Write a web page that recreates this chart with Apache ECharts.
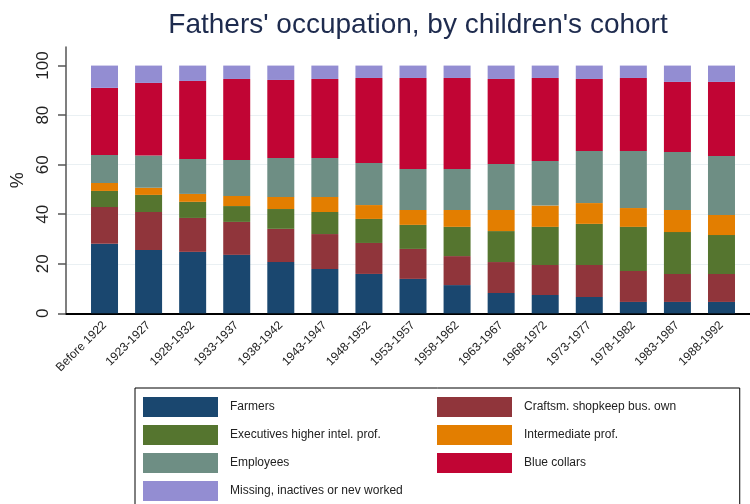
<!DOCTYPE html>
<html lang="en">
<head>
    <meta charset="UTF-8">
    <title>Fathers' occupation</title>
    <script src="https://cdn.jsdelivr.net/npm/echarts@6/dist/echarts.min.js"></script>
    <style>
        html, body { margin: 0; padding: 0; background: #fff; }
        #main { width: 750px; height: 504px; }
    </style>
</head>
<body>
<div id="main"></div>

<script>
    // cohorts (x categories)
    var cohorts = ['Before 1922', '1923-1927', '1928-1932', '1933-1937', '1938-1942',
        '1943-1947', '1948-1952', '1953-1957', '1958-1962', '1963-1967',
        '1968-1972', '1973-1977', '1978-1982', '1983-1987', '1988-1992'];

    // shares in %
    var farmers     = [28.1, 25.6, 24.8, 23.6, 20.7, 17.9, 15.9, 13.9, 11.4, 8.2, 7.4, 6.6, 4.6, 4.6, 4.6];
    var craftsmen   = [14.8, 15.3, 13.7, 13.3, 13.4, 14.1, 12.5, 12.1, 11.7, 12.5, 12.1, 12.9, 12.5, 11.3, 11.3];
    var executives  = [6.5, 6.9, 6.5, 6.4, 8.0, 8.9, 9.7, 9.7, 11.8, 12.5, 15.4, 16.6, 17.8, 16.9, 15.7];
    var intermed    = [3.2, 2.9, 3.2, 4.1, 4.9, 6.1, 5.6, 6.0, 6.8, 8.5, 8.6, 8.4, 7.6, 8.9, 8.1];
    var employees   = [11.3, 13.0, 14.1, 14.5, 15.7, 15.7, 17.0, 16.6, 16.6, 18.6, 18.0, 21.0, 23.0, 23.4, 23.8];
    var bluecollars = [27.1, 29.3, 31.5, 32.7, 31.5, 31.9, 34.3, 36.7, 36.7, 34.3, 33.5, 29.1, 29.5, 28.3, 29.9];
    var missing     = [9.0, 7.0, 6.2, 5.4, 5.8, 5.4, 5.0, 5.0, 5.0, 5.4, 5.0, 5.4, 5.0, 6.6, 6.6];

    var yTicks = [0, 20, 40, 60, 80, 100];
    var xTicks = cohorts.map(function (c, i) { return i; });

    var groups = [
        {name: 'Farmers', data: farmers, color: '#1a476f'},
        {name: 'Craftsm. shopkeep bus. own', data: craftsmen, color: '#90353b'},
        {name: 'Executives higher intel. prof.', data: executives, color: '#55752f'},
        {name: 'Intermediate prof.', data: intermed, color: '#e37e00'},
        {name: 'Employees', data: employees, color: '#6e8e84'},
        {name: 'Blue collars', data: bluecollars, color: '#c10534'},
        {name: 'Missing, inactives or nev worked', data: missing, color: '#938dd2'}
    ];

    // two legend columns
    var legendLeft = [0, 2, 4, 6].map(function (k) { return groups[k].name; });
    var legendRight = [1, 3, 5].map(function (k) { return groups[k].name; });

    var myChart = echarts.init(document.getElementById('main'), null, {renderer: 'canvas'});

    // value first so that it is the stacked dimension, cohort index second
    var series = groups.map(function (g) {
        return {
            name: g.name,
            type: 'bar',
            stack: 'all',
            barWidth: 27,
            itemStyle: {color: g.color},
            encode: {x: 1, y: 0},
            data: g.data.map(function (v, i) { return [v, i]; })
        };
    });

    var legendBase = {
        orient: 'vertical',
        itemWidth: 75,
        itemHeight: 20,
        itemGap: 8,
        height: 110,
        icon: 'rect',
        textStyle: {fontSize: 12, color: '#222', padding: [0, 0, 0, 7]}
    };

    var option = {
        animation: false,
        textStyle: {fontFamily: 'Liberation Sans, Arial, sans-serif'},
        title: {
            text: "Fathers' occupation, by children's cohort",
            left: 413,
            textAlign: 'center',
            top: 6,
            textStyle: {fontSize: 28, fontWeight: 'normal', color: '#1e2b4e'}
        },
        legend: [
            Object.assign({}, legendBase, {
                left: 135,
                top: 388,
                width: 260,
                padding: [9, 337, 9, 8],
                borderColor: '#000',
                borderWidth: 1,
                borderRadius: 0,
                data: legendLeft
            }),
            Object.assign({}, legendBase, {
                left: 437,
                top: 397,
                padding: 0,
                data: legendRight
            })
        ],
        grid: {left: 66, right: 0, top: 47, bottom: 190.67, containLabel: false},
        xAxis: {
            type: 'value',
            min: -0.874,
            max: 14.647,
            axisLine: {show: true, onZero: false, lineStyle: {color: '#000', width: 2}},
            axisTick: {show: false},
            splitLine: {show: false},
            axisLabel: {
                customValues: xTicks,
                rotate: 45,
                margin: 10,
                fontSize: 12,
                color: '#222',
                formatter: function (v) { return cohorts[Math.round(v)]; }
            }
        },
        yAxis: {
            type: 'value',
            min: 0,
            max: 107.5,
            interval: 20,
            name: '%',
            nameLocation: 'middle',
            nameGap: 37,
            nameRotate: 90,
            nameTextStyle: {fontSize: 18, color: '#222'},
            axisLine: {show: true, onZero: false, lineStyle: {color: '#555', width: 1.5}},
            axisTick: {show: true, customValues: yTicks, length: 8, lineStyle: {color: '#555', width: 1.5}},
            axisLabel: {customValues: yTicks, rotate: 90, margin: 14, fontSize: 17, color: '#222'},
            splitLine: {show: true, showMaxLine: false, showMinLine: false, lineStyle: {color: '#eaf0f3', width: 1}}
        },
        series: series
    };

    myChart.setOption(option);
</script>
</body>
</html>
